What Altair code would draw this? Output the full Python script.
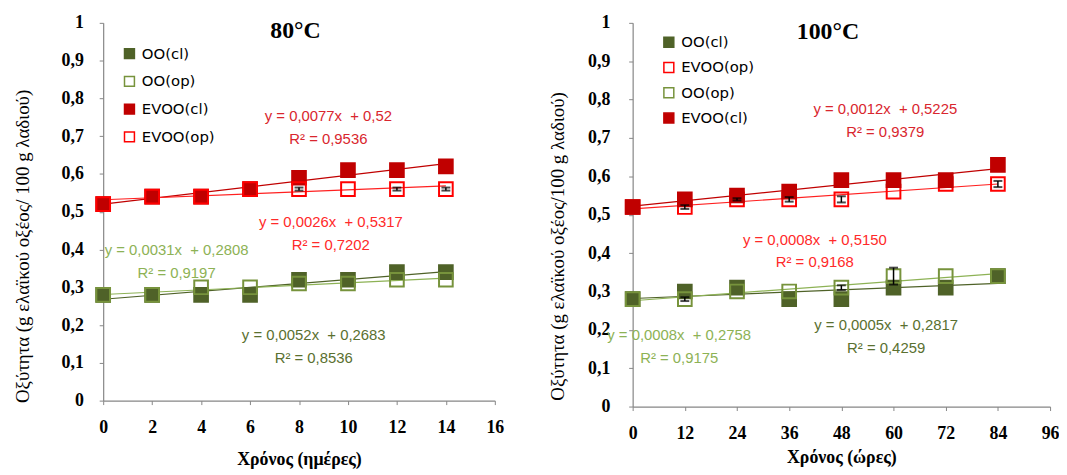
import altair as alt
import pandas as pd

# ---------------- data ----------------
y_ticks = [0, 0.1, 0.2, 0.3, 0.4, 0.5, 0.6, 0.7, 0.8, 0.9, 1]

# 80 °C panel (days)
days = [0, 2, 4, 6, 8, 10, 12, 14]
day_ticks = [0, 2, 4, 6, 8, 10, 12, 14, 16]
oo_cl_80 = [0.28, 0.28, 0.28, 0.28, 0.32, 0.32, 0.34, 0.34]
oo_op_80 = [0.28, 0.28, 0.30, 0.30, 0.31, 0.31, 0.32, 0.32]
evoo_cl_80 = [0.52, 0.54, 0.54, 0.56, 0.59, 0.61, 0.61, 0.62]
evoo_op_80 = [0.52, 0.54, 0.54, 0.56, 0.56, 0.56, 0.56, 0.56]
err_evoo_op_80 = [0, 0, 0, 0, 0.004, 0, 0.004, 0.004]
order_80 = ["OO(cl)", "OO(op)", "EVOO(cl)", "EVOO(op)"]

# 100 °C panel (hours)
hours = [0, 12, 24, 36, 48, 60, 72, 84]
hour_ticks = [0, 12, 24, 36, 48, 60, 72, 84, 96]
oo_cl_100 = [0.28, 0.30, 0.31, 0.28, 0.28, 0.31, 0.31, 0.34]
evoo_op_100 = [0.52, 0.52, 0.54, 0.54, 0.54, 0.56, 0.58, 0.58]
oo_op_100 = [0.28, 0.28, 0.30, 0.30, 0.31, 0.34, 0.34, 0.34]
evoo_cl_100 = [0.52, 0.54, 0.55, 0.56, 0.59, 0.59, 0.59, 0.63]
err_evoo_op_100 = [0, 0.005, 0.003, 0.006, 0.008, 0, 0, 0.008]
err_oo_op_100 = [0, 0.005, 0, 0, 0.006, 0.022, 0, 0]
order_100 = ["OO(cl)", "EVOO(op)", "OO(op)", "EVOO(cl)"]

# trendline equation labels
eq_80 = ["y = 0,0077x \u00a0+ 0,52", "y = 0,0026x \u00a0+ 0,5317", "y = 0,0031x \u00a0+ 0,2808", "y = 0,0052x \u00a0+ 0,2683"]
r2_80 = ["R² = 0,9536", "R² = 0,7202", "R² = 0,9197", "R² = 0,8536"]
eq_x_80 = [9.2, 9.3, 3.0, 8.6]
eq_y_80 = [0.752, 0.472, 0.399, 0.173]

eq_100 = ["y = 0,0012x \u00a0+ 0,5225", "y = 0,0008x \u00a0+ 0,5150", "y = 0,0008x \u00a0+ 0,2758", "y = 0,0005x \u00a0+ 0,2817"]
r2_100 = ["R² = 0,9379", "R² = 0,9168", "R² = 0,9175", "R² = 0,4259"]
eq_x_100 = [58.1, 41.9, 10.7, 58.3]
eq_y_100 = [0.775, 0.435, 0.186, 0.212]

# ---------------- styles ----------------
fill_map = {"OO(cl)": "#4F6228", "OO(op)": "transparent", "EVOO(cl)": "#C00000", "EVOO(op)": "transparent"}
stroke_map = {"OO(cl)": "#4F6228", "OO(op)": "#77933C", "EVOO(cl)": "#C00000", "EVOO(op)": "#FF0000"}
line_map = {"OO(cl)": "#4F6228", "OO(op)": "#8DB255", "EVOO(cl)": "#C00000", "EVOO(op)": "#FF2020"}
eq_colors = ["#D9262E", "#FF2A2A", "#8DB255", "#5A7030"]

SERIF = "Liberation Serif"


def build_df(x, series):
    rows = []
    for name, (vals, errs) in series.items():
        for xi, yi, ei in zip(x, vals, errs):
            rows.append({"series": name, "x": xi, "y": yi, "err": ei})
    return pd.DataFrame(rows)


def panel(df, order, x_ticks, x_title, y_title, width, height, title_text, title_px,
          leg_xy, leg_row_pad, eqs, r2s, ex, ey, ylab_pad, ytitle_x, ytitle_y, xtitle_y):
    xscale = alt.Scale(domain=[x_ticks[0], x_ticks[-1]], nice=False, zero=False)
    yscale = alt.Scale(domain=[0, 1], nice=False)
    xaxis = alt.Axis(values=x_ticks, title=x_title, titleY=xtitle_y, titleBaseline="middle",
                     titleFontWeight="bold", titleFontSize=18, labelPadding=14, labelFlush=False)
    yaxis = alt.Axis(values=y_ticks, title=y_title, labelExpr="replace(format(datum.value, '~g'), '.', ',')",
                     titleAngle=270, titleX=ytitle_x, titleY=ytitle_y, titleAlign="center",
                     titleBaseline="middle", titleFontWeight="normal", titleFontSize=19,
                     labelPadding=ylab_pad, labelFlush=False)

    def X(f):
        return alt.X(f"{f}:Q", scale=xscale, axis=xaxis)

    def Y(f):
        return alt.Y(f"{f}:Q", scale=yscale, axis=yaxis)

    leg = alt.Legend(orient="none", legendX=leg_xy[0], legendY=leg_xy[1], title=None, rowPadding=leg_row_pad)

    base = alt.Chart(df)
    layers = []
    # linear trendlines, one per series
    for s in order:
        layers.append(
            base.transform_filter(alt.datum.series == s).transform_regression("x", "y")
            .mark_line(strokeWidth=1.2, color=line_map[s]).encode(x=X("x"), y=Y("y"))
        )
    pts = base.mark_square(size=190, strokeWidth=2, opacity=1).encode(
        x=X("x"), y=Y("y"),
        fill=alt.Fill("series:N", scale=alt.Scale(domain=order, range=[fill_map[s] for s in order]), legend=leg),
        stroke=alt.Stroke("series:N", scale=alt.Scale(domain=order, range=[stroke_map[s] for s in order]), legend=leg),
    )
    eb = base.transform_filter("datum.err > 0").transform_calculate(lo="datum.y - datum.err", hi="datum.y + datum.err")
    rule = eb.mark_rule(color="black", strokeWidth=1.5).encode(x=X("x"), y=Y("lo"), y2="hi:Q")
    cap_lo = eb.mark_tick(color="black", orient="horizontal", size=9, thickness=2).encode(x=X("x"), y=Y("lo"))
    cap_hi = eb.mark_tick(color="black", orient="horizontal", size=9, thickness=2).encode(x=X("x"), y=Y("hi"))
    layers += [pts, rule, cap_lo, cap_hi]

    for i in range(len(eqs)):
        adf = pd.DataFrame({"x": [ex[i]], "y": [ey[i]], "t": [eqs[i] + "\n" + r2s[i]]})
        layers.append(
            alt.Chart(adf).mark_text(font="Liberation Sans", fontSize=15, color=eq_colors[i], lineBreak="\n",
                                     lineHeight=23, align="center", baseline="middle").encode(
                x=X("x"), y=Y("y"), text="t:N")
        )
    tdf = pd.DataFrame({"t": [title_text]})
    layers.append(
        alt.Chart(tdf).mark_text(font=SERIF, fontSize=24, fontWeight="bold", color="black",
                                 align="center", baseline="middle").encode(
            text="t:N", x=alt.value(title_px[0]), y=alt.value(title_px[1]))
    )
    return alt.layer(*layers).properties(width=width, height=height)


df80 = build_df(days, {
    "OO(cl)": (oo_cl_80, [0] * 8),
    "OO(op)": (oo_op_80, [0] * 8),
    "EVOO(cl)": (evoo_cl_80, [0] * 8),
    "EVOO(op)": (evoo_op_80, err_evoo_op_80),
})
df100 = build_df(hours, {
    "OO(cl)": (oo_cl_100, [0] * 8),
    "EVOO(op)": (evoo_op_100, err_evoo_op_100),
    "OO(op)": (oo_op_100, err_oo_op_100),
    "EVOO(cl)": (evoo_cl_100, [0] * 8),
})

left = panel(df80, order_80, day_ticks, "Χρόνος (ημέρες)", "Οξύτητα (g ελαϊκού οξέος/ 100 g λαδιού)",
             395, 381, "80°C", (194, 8.5), (19, 23.5), 11, eq_80, r2_80, eq_x_80, eq_y_80,
             16, -81, 225, 59)
right = panel(df100, order_100, hour_ticks, "Χρόνος (ώρες)", "Οξύτητα (g ελαϊκού οξέος/100 g λαδιού)",
              421, 387, "100°C", (197, 9.5), (29, 12), 8.5, eq_100, r2_100, eq_x_100, eq_y_100,
              19, -76, 225, 51)

chart = alt.hconcat(left, right, spacing=44).resolve_scale(
    x="independent", y="independent", fill="independent", stroke="independent"
).properties(
    padding={"left": 6, "top": 4, "right": 0, "bottom": 0}
).configure_view(stroke=None).configure_axis(
    grid=False, domainColor="#868686", tickColor="#868686", tickSize=4, domainWidth=1.2,
    labelFont=SERIF, labelFontSize=18, labelFontWeight="bold", labelColor="black",
    titleFont=SERIF, titleColor="black",
).configure_legend(
    symbolType="square", symbolSize=100, symbolStrokeWidth=1.5,
    labelFont="DejaVu Sans", labelFontSize=15, labelOffset=5, labelColor="black",
)

chart.save("out.html", embed_options={"renderer": "svg", "actions": False})
